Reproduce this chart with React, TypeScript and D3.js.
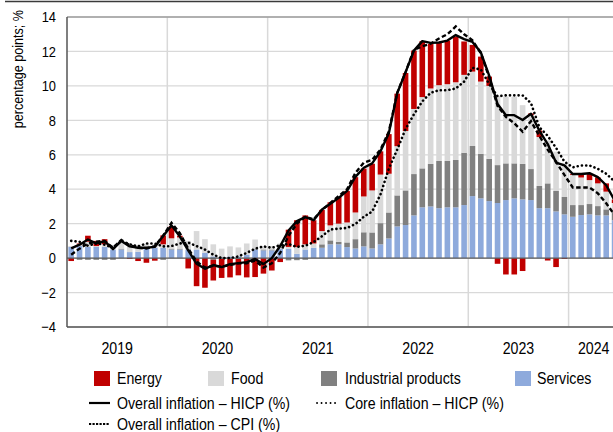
import React from "react";
import * as d3 from "d3";

const years = ["2019", "2020", "2021", "2022", "2023", "2024"];
const months = d3.timeMonths(new Date(2019, 0, 1), new Date(2024, 6, 1));

const energy = [
  -0.17, 0.05, 0.35, 0.3, 0.3, 0, 0, -0.05, -0.17, -0.27, -0.15, 0.52,
  0.7, 0.1, -0.6, -1.63, -1.72, -1.2, -1.1, -1.07, -0.95, -1.07, -1.1, -0.9,
  -0.72, -0.23, 1.0, 1.56, 1.68, 1.35, 1.23, 1.34, 1.55, 1.83, 2.05, 1.62,
  1.55, 1.35, 2.3, 3.05, 3.37, 3.39, 3.25, 2.59, 2.48, 2.53, 2.66, 1.94,
  1.55, 1.45, 0.54, -0.33, -0.95, -0.95, -0.75, 0.1, 0.38, -0.14, -0.52, -0.05,
  0.05, 0.2, 0.35, 0.35, 0.48, 0.2,
];
const food = [
  0.05, 0.1, 0.3, 0.05, 0.15, 0.25, 0.45, 0.35, 0.4, 0.25, 0.2, 0.2,
  0.6, 0.65, 0.5, 1.07, 0.8, 0.7, 0.5, 0.58, 0.52, 0.65, 0.53, 0.2,
  0.2, 0.3, 0.1, 0.39, 0.3, 0.25, 0.77, 0.87, 1.06, 1.16, 1.55, 2.08,
  2.44, 2.82, 2.25, 2.86, 3.45, 3.78, 4.14, 4.38, 4.4, 4.46, 4.51, 4.52,
  4.32, 4.2, 4.24, 4.02, 3.88, 3.88, 3.41, 3.13, 2.84, 2.5, 2.28, 1.95,
  1.75, 1.6, 1.39, 1.32, 1.03, 0.5,
];
const industrial = [
  0, -0.1, -0.1, -0.1, -0.1, -0.1, 0.05, 0, 0, 0, 0, -0.1,
  0.05, 0.05, 0, 0, 0, -0.1, -0.05, -0.05, -0.05, -0.05, 0.05, 0.05,
  0.05, 0, -0.13, -0.12, -0.1, 0, 0.2, 0.23, 0.14, 0.27, 0.54, 0.82,
  0.93, 1.23, 1.51, 1.8, 2.01, 2.4, 2.26, 2.47, 2.74, 2.69, 2.75, 3.04,
  2.91, 2.58, 2.45, 2.2, 2.13, 2.03, 2.06, 1.8, 1.29, 1.44, 1.19, 1.01,
  0.68, 0.58, 0.6, 0.54, 0.35, 0.5,
];
const services = [
  0.65, 0.7, 0.65, 0.65, 0.65, 0.5, 0.5, 0.35, 0.37, 0.6, 0.6, 0.6,
  0.5, 0.5, 0.5, 0.5, 0.3, 0.1, 0.05, 0.1, 0.1, 0.2, 0.5, 0.45,
  0.45, 0.55, 0.55, 0.25, 0.5, 0.6, 0.6, 0.8, 0.8, 0.64, 0.56, 0.68,
  0.56, 0.8, 1.14, 1.84, 1.92, 2.48, 2.95, 3.0, 2.9, 2.95, 2.95, 3.08,
  3.6, 3.47, 3.31, 3.2, 3.37, 3.47, 3.41, 3.37, 2.9, 2.9, 2.71, 2.54,
  2.4, 2.5, 2.54, 2.48, 2.48, 2.2,
];
const hicp = [
  0.56, 0.78, 1.08, 0.86, 0.98, 0.52, 1.0, 0.68, 0.6, 0.6, 0.65, 1.28,
  1.9, 1.25, 0.45, -0.33, -0.62, -0.4, -0.52, -0.35, -0.29, -0.23, -0.05, -0.35,
  0.0, 0.7, 1.6, 2.15, 2.38, 2.2, 2.82, 3.15, 3.5, 3.9, 4.72, 5.25,
  5.5, 6.2, 7.25, 9.58, 10.8, 12.05, 12.6, 12.5, 12.52, 12.63, 12.95, 12.72,
  12.55, 11.95, 10.6, 8.95, 8.3, 8.3, 8.02, 8.38, 7.4, 6.62, 5.55, 5.38,
  4.88, 4.88, 4.93, 4.7, 4.23, 3.35,
];
const core = [
  1.0, 0.95, 0.72, 0.85, 0.78, 0.6, 1.0, 0.8, 0.68, 0.85, 0.85, 0.68,
  0.7, 0.85, 0.9, 0.7, 0.5, 0.2, 0.0, 0.0, 0.1, 0.3, 0.55, 0.68,
  0.6, 0.75, 0.82, 0.65, 0.72, 0.93, 1.27, 1.66, 1.71, 1.75, 1.98, 2.4,
  2.7, 3.7, 5.2, 6.3, 7.5, 8.35, 9.1, 9.6, 9.75, 9.75, 9.85, 10.25,
  11.05, 10.95, 10.1, 9.4, 9.45, 9.45, 9.45, 9.0, 7.6, 7.1, 6.4, 5.6,
  5.27, 5.38, 5.38, 5.18, 4.9, 4.45,
];
const cpi = [
  0.2, 0.55, 0.85, 0.95, 1.0, 0.6, 1.05, 0.75, 0.6, 0.55, 0.7, 1.3,
  2.05, 1.45, 0.55, -0.2, -0.55, -0.45, -0.5, -0.4, -0.3, -0.3, -0.15, -0.55,
  -0.3, 0.3, 1.3, 2.0, 2.4, 2.25, 2.8, 3.2, 3.6, 4.0, 4.95, 5.55,
  5.7, 6.3, 7.35, 9.6, 10.8, 12.1, 12.3, 12.45, 12.75, 13.0, 13.45, 13.0,
  12.65, 11.9, 10.5, 8.84, 8.2, 7.83, 7.34, 7.95, 7.1, 6.3, 5.6, 4.83,
  4.1, 4.1, 4.1, 3.76, 3.18, 2.5,
];
const yTicks = [-4, -2, 0, 2, 4, 6, 8, 10, 12, 14];

const keys = ["services", "industrial", "food", "energy"];
const colors: Record<string, string> = {
  energy: "#c00000",
  food: "#d9d9d9",
  industrial: "#808080",
  services: "#8eaadc",
};
const labels: Record<string, string> = {
  energy: "Energy",
  food: "Food",
  industrial: "Industrial products",
  services: "Services",
};

const FONT = "'Liberation Sans',Arial,sans-serif";

function NText(props: {
  x: number;
  y: number;
  size: number;
  sx?: number;
  anchor?: string;
  rotate?: number;
  children: React.ReactNode;
}) {
  const { x, y, size, sx = 0.86, anchor = "start", rotate = 0 } = props;
  return (
    <text
      transform={`translate(${x},${y}) rotate(${rotate}) scale(${sx},1)`}
      textAnchor={anchor}
      dy="0.35em"
      fontSize={size}
      fill="#000"
    >
      {props.children}
    </text>
  );
}

export default function App() {
  const W = 613;
  const H = 432;
  const left = 67;
  const top = 17;
  const bottom = 327;
  const step = 8.36;
  const right = left + months.length * step;

  const x = d3
    .scaleBand<number>()
    .domain(d3.range(months.length))
    .range([left, right])
    .paddingInner(0.33)
    .paddingOuter(0.165);
  const y = d3.scaleLinear().domain([-4, 14]).range([bottom, top]);

  const rows = months.map((m, i) => ({
    energy: energy[i],
    food: food[i],
    industrial: industrial[i],
    services: services[i],
  }));
  const stacked = d3
    .stack<any>()
    .keys(keys)
    .offset(d3.stackOffsetDiverging)(rows);

  const cx = (i: number) => (x(i) as number) + x.bandwidth() / 2;
  const line = d3
    .line<number>()
    .x((d, i) => cx(i))
    .y((d) => y(d));

  const yearStart = (k: number) => left + k * 12 * x.step();

  const legendRow1 = [
    { key: "energy", sx: 94, tx: 117 },
    { key: "food", sx: 208, tx: 231 },
    { key: "industrial", sx: 321, tx: 345 },
    { key: "services", sx: 515, tx: 537 },
  ];

  return (
    <svg
      width={W}
      height={H}
      style={{ position: "absolute", left: 0, top: 0, background: "#fff" }}
      fontFamily={FONT}
    >
      <rect x={0} y={0} width={W} height={H} fill="#fff" />
      <line x1={5} x2={W} y1={1.5} y2={1.5} stroke="#3a3a3a" strokeWidth={1.5} />

      {/* grid */}
      {yTicks.map((t) => (
        <line key={"g" + t} x1={left} x2={right} y1={y(t)} y2={y(t)} stroke="#d9d9d9" strokeWidth={1.3} />
      ))}
      {years.map((yr, k) =>
        k > 0 ? (
          <line key={"v" + yr} x1={yearStart(k)} x2={yearStart(k)} y1={top} y2={bottom} stroke="#d9d9d9" strokeWidth={1.5} />
        ) : null
      )}

      {/* bars */}
      {stacked.map((s) => (
        <g key={s.key} fill={colors[s.key]}>
          {s.map((d, i) => {
            const y0 = y(d[0]);
            const y1 = y(d[1]);
            const h = Math.abs(y0 - y1);
            if (h < 0.01) return null;
            return <rect key={i} x={x(i)} y={Math.min(y0, y1)} width={x.bandwidth()} height={h} />;
          })}
        </g>
      ))}

      {/* zero line */}
      <line x1={left} x2={right} y1={y(0)} y2={y(0)} stroke="#5a5a5a" strokeWidth={1.2} />

      {/* lines */}
      <path d={line(core) || ""} fill="none" stroke="#000" strokeWidth={2.6} strokeDasharray="0.1 4.2" strokeLinecap="round" />
      <path d={line(cpi) || ""} fill="none" stroke="#000" strokeWidth={2.4} strokeDasharray="4.5 2.6" />
      <path d={line(hicp) || ""} fill="none" stroke="#000" strokeWidth={2.4} strokeLinejoin="round" />

      {/* frame */}
      <line x1={left} x2={right} y1={top} y2={top} stroke="#7f7f7f" strokeWidth={1.2} />
      <line x1={left} x2={left} y1={top} y2={bottom} stroke="#555" strokeWidth={1.5} />
      <line x1={left} x2={right} y1={bottom} y2={bottom} stroke="#555" strokeWidth={1.5} />

      {/* y ticks */}
      {yTicks.map((t) => (
        <NText key={"t" + t} x={56} y={y(t)} size={15} anchor="end">
          {t < 0 ? "\u2212" + Math.abs(t) : String(t)}
        </NText>
      ))}
      <NText x={18} y={10} size={15} sx={0.84} anchor="end" rotate={-90}>
        percentage points; %
      </NText>

      {/* year labels */}
      {years.map((yr, k) => {
        const x0 = yearStart(k);
        const x1 = Math.min(yearStart(k + 1), right);
        return (
          <NText key={"y" + yr} x={(x0 + x1) / 2} y={348} size={16.5} anchor="middle">
            {yr}
          </NText>
        );
      })}

      {/* legend */}
      {legendRow1.map((l) => (
        <g key={"l" + l.key}>
          <rect x={l.sx} y={371} width={16} height={15} fill={colors[l.key]} />
          <NText x={l.tx} y={378.5} size={16.5}>
            {labels[l.key]}
          </NText>
        </g>
      ))}
      <line x1={89} x2={110} y1={403} y2={403} stroke="#000" strokeWidth={2.2} />
      <NText x={117} y={403} size={16.5}>
        Overall inflation – HICP (%)
      </NText>
      <line x1={317} x2={339} y1={403} y2={403} stroke="#000" strokeWidth={1.8} strokeDasharray="0.1 4.4" strokeLinecap="round" />
      <NText x={345} y={403} size={16.5}>
        Core inflation – HICP (%)
      </NText>
      <line x1={89} x2={110} y1={424} y2={424} stroke="#000" strokeWidth={2} strokeDasharray="2.2 1.3" />
      <NText x={117} y={424} size={16.5}>
        Overall inflation – CPI (%)
      </NText>
    </svg>
  );
}
